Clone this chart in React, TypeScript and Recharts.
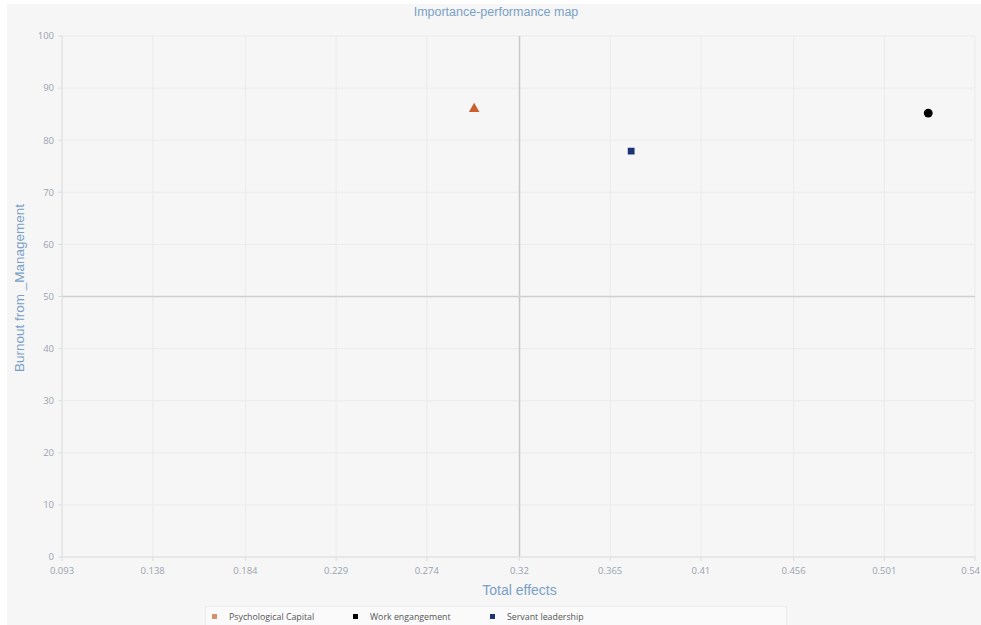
import React from 'react';
import {
    ScatterChart, Scatter, XAxis, YAxis, CartesianGrid, ReferenceLine, Label, Symbols,
} from 'recharts';

// axis ticks
const xTicks = [0.093, 0.138, 0.184, 0.229, 0.274, 0.32, 0.365, 0.41, 0.456, 0.501, 0.546];
const xTickLabels = ['0.093', '0.138', '0.184', '0.229', '0.274', '0.32', '0.365', '0.41', '0.456', '0.501', '0.54'];
const yTicks = [0, 10, 20, 30, 40, 50, 60, 70, 80, 90, 100];

// constructs (importance = total effect, performance)
const psychologicalCapital = [{x: 0.2975, y: 86.0}];
const workEngagement = [{x: 0.5228, y: 85.2}];
const servantLeadership = [{x: 0.3754, y: 77.9}];

const series = [
    {name: 'Psychological Capital', data: psychologicalCapital, color: '#c9602e', legendColor: '#d98f6a', type: 'triangle', size: 48},
    {name: 'Work engangement', data: workEngagement, color: '#000000', legendColor: '#000000', type: 'circle', size: 62},
    {name: 'Servant leadership', data: servantLeadership, color: '#1c3472', legendColor: '#1c3472', type: 'square', size: 46},
];

const tickStyle = {fontSize: 9.5, fill: '#9aa3ae', fontFamily: '"Open Sans", sans-serif'};
const axisTitleColor = '#7a9fc6';

// last label sits on the right edge, so anchor it at its end
function XTick(props: any): React.ReactElement {
    const {x, y, payload, index} = props;
    const last = index === xTicks.length - 1;
    return (
        <text x={last ? x + 5 : x} y={y} dy="0.71em" textAnchor={last ? 'end' : 'middle'}
              fontSize={tickStyle.fontSize} fill={tickStyle.fill} fontFamily={tickStyle.fontFamily}>
            {xTickLabels[xTicks.indexOf(payload.value)] ?? String(payload.value)}
        </text>
    );
}

function App(): React.ReactElement {
    return (
        <div style={{position: 'absolute', left: 7, top: 4, width: 974, height: 621, background: '#f6f6f6', fontFamily: '"Liberation Sans", Arial, sans-serif'}}>
            <div style={{position: 'absolute', left: 0, width: 978, top: 0, textAlign: 'center', fontSize: 12.5, color: axisTitleColor, lineHeight: '16px'}}>
                Importance-performance map
            </div>
            <ScatterChart width={974} height={621} margin={{top: 32, right: 6, bottom: 36, left: 10}}>
                <CartesianGrid stroke="#ebebeb" strokeWidth={1} vertical={true} horizontal={true}/>
                <XAxis
                    type="number"
                    dataKey="x"
                    domain={[0.093, 0.546]}
                    ticks={xTicks}
                    interval={0}
                    tick={<XTick/>}
                    tickSize={4}
                    tickMargin={6}
                    stroke="#dedede"
                    height={32}
                    allowDataOverflow
                >
                    <Label
                        content={({viewBox}: any) => (
                            <text x={(viewBox?.x ?? 55) + (viewBox?.width ?? 913) / 2 + 1} y={(viewBox?.y ?? 553) + 38}
                                  textAnchor="middle" fontSize={14} fill={axisTitleColor}
                                  fontFamily='"Liberation Sans", Arial, sans-serif'>
                                Total effects
                            </text>
                        )}
                    />
                </XAxis>
                <YAxis
                    type="number"
                    dataKey="y"
                    domain={[0, 100]}
                    ticks={yTicks}
                    interval={0}
                    tick={tickStyle}
                    tickSize={4}
                    tickMargin={4}
                    stroke="#dedede"
                    width={45}
                >
                    <Label
                        content={() => (
                            <text x={17} y={284} transform="rotate(-90 17 284)" textAnchor="middle"
                                  fontSize={13.5} fill={axisTitleColor}
                                  fontFamily='"Liberation Sans", Arial, sans-serif'>
                                Burnout from _Management
                            </text>
                        )}
                    />
                </YAxis>
                <ReferenceLine x={0.32} stroke="#c9c9c9" strokeWidth={1.5}/>
                <ReferenceLine y={50} stroke="#cfcfcf" strokeWidth={1.5}/>
                {series.map((s) => (
                    <Scatter
                        key={s.name}
                        name={s.name}
                        data={s.data}
                        fill={s.color}
                        isAnimationActive={false}
                        shape={(p: any) => (
                            <Symbols cx={p.cx} cy={p.cy} type={s.type as any} size={s.size} fill={s.color}/>
                        )}
                    />
                ))}
            </ScatterChart>
            <div style={{
                position: 'absolute', left: 198, top: 602, width: 580, height: 19, background: '#fafafa',
                borderTop: '1px solid #ececec', borderLeft: '1px solid #ececec', borderRight: '1px solid #ececec',
                display: 'flex', alignItems: 'center', fontFamily: '"Open Sans", sans-serif', fontSize: 8.8, color: '#555',
            }}>
                {series.map((s, i) => (
                    <div key={s.name} style={{display: 'flex', alignItems: 'center', marginLeft: i === 0 ? 6 : 0, width: i === 2 ? 'auto' : (i === 0 ? 141 : 137)}}>
                        <span style={{width: 5, height: 5, background: s.legendColor, marginRight: 12, display: 'inline-block'}}></span>
                        <span>{s.name}</span>
                    </div>
                ))}
            </div>
        </div>
    );
}

export default App;
